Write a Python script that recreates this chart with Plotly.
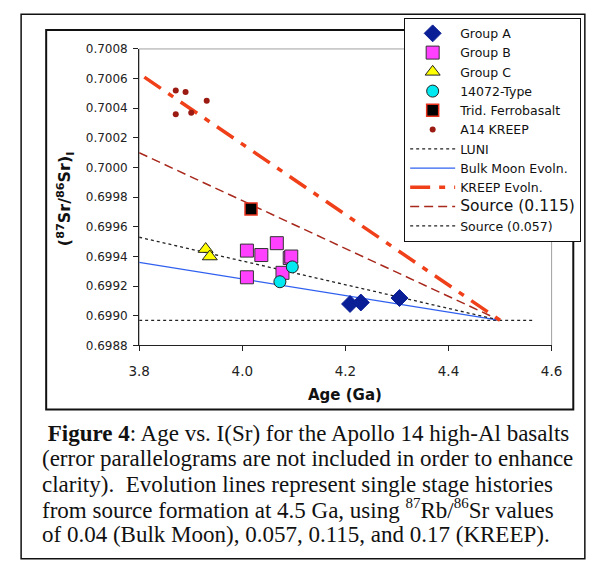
import plotly.graph_objects as go

# ---------------- data ----------------
groupA_age = [4.209, 4.230, 4.305]
groupA_sr = [0.69908, 0.69909, 0.69912]

groupB_age = [4.009, 4.037, 4.067, 4.092, 4.095, 4.078, 4.009]
groupB_sr = [0.69944, 0.69941, 0.69949, 0.69939, 0.69940, 0.69929, 0.69926]

groupC_age = [3.929, 3.937]
groupC_sr = [0.69945, 0.69940]

t14072_age = [4.097, 4.073]
t14072_sr = [0.69933, 0.69923]

trid_age = [4.017]
trid_sr = [0.69972]

kreep_age = [3.871, 3.890, 3.931, 3.871, 3.901]
kreep_sr = [0.70052, 0.70051, 0.70045, 0.70036, 0.70037]

luni_age = [3.80, 4.565]
luni_sr = [0.69897, 0.69897]

bulk_age = [3.80, 4.50]
bulk_sr = [0.69936, 0.69897]

kreep_evol_age = [3.81, 4.50]
kreep_evol_sr = [0.70061, 0.69897]

src115_age = [3.80, 4.50]
src115_sr = [0.70010, 0.69897]

src057_age = [3.80, 4.50]
src057_sr = [0.69953, 0.69897]

x_ticks = [3.8, 4.0, 4.2, 4.4, 4.6]
y_ticks = [0.6988, 0.6990, 0.6992, 0.6994, 0.6996, 0.6998, 0.7000, 0.7002, 0.7004, 0.7006, 0.7008]

caption_lines = [
    " <b>Figure 4</b>: Age vs. I(Sr) for the Apollo 14 high-Al basalts",
    "(error parallelograms are not included in order to enhance",
    "clarity).  Evolution lines represent single stage histories",
    'from source formation at 4.5 Ga, using <sup><span style="font-size:15px">87</span></sup>Rb/'
    '<sup><span style="font-size:15px">86</span></sup>Sr values',
    "of 0.04 (Bulk Moon), 0.057, 0.115, and 0.17 (KREEP).",
]

# ---------------- figure ----------------
W, H = 605, 571
fig = go.Figure()

# lines (drawn first, under markers)
fig.add_trace(go.Scatter(x=luni_age, y=luni_sr, mode="lines", name="LUNI",
                         line=dict(color="#222222", width=1.3, dash="3px,3px"), legendrank=7))
fig.add_trace(go.Scatter(x=bulk_age, y=bulk_sr, mode="lines", name="Bulk Moon Evoln.",
                         line=dict(color="#3060F0", width=1.3), legendrank=8))
fig.add_trace(go.Scatter(x=src115_age, y=src115_sr, mode="lines",
                         name='<span style="font-size:15.5px">Source (0.115)</span>',
                         line=dict(color="#A8281C", width=1.5, dash="9px,5px"), legendrank=10))
fig.add_trace(go.Scatter(x=src057_age, y=src057_sr, mode="lines", name="Source (0.057)",
                         line=dict(color="#222222", width=1.3, dash="3px,3px"), legendrank=11))
fig.add_trace(go.Scatter(x=kreep_evol_age, y=kreep_evol_sr, mode="lines", name="KREEP Evoln.",
                         line=dict(color="#F0401A", width=3.5, dash="20px,9px,6px,9px"), legendrank=9))

# markers
fig.add_trace(go.Scatter(x=groupA_age, y=groupA_sr, mode="markers", name="Group A",
                         marker=dict(symbol="diamond", size=13, color="#0A1E96",
                                     line=dict(color="#0A1E96", width=1)), legendrank=1))
fig.add_trace(go.Scatter(x=groupB_age, y=groupB_sr, mode="markers", name="Group B",
                         marker=dict(symbol="square", size=13, color="#FF40FF",
                                     line=dict(color="#333333", width=1)), legendrank=2))
fig.add_trace(go.Scatter(x=groupC_age, y=groupC_sr, mode="markers", name="Group C",
                         marker=dict(symbol="triangle-up", size=13, color="#FFFF00",
                                     line=dict(color="#222222", width=1)), legendrank=3))
fig.add_trace(go.Scatter(x=t14072_age, y=t14072_sr, mode="markers", name="14072-Type",
                         marker=dict(symbol="circle", size=12, color="#00E8F0",
                                     line=dict(color="#222222", width=1)), legendrank=4))
fig.add_trace(go.Scatter(x=trid_age, y=trid_sr, mode="markers", name="Trid. Ferrobasalt",
                         marker=dict(symbol="square", size=12, color="#000000",
                                     line=dict(color="#E8321E", width=1.5)), legendrank=5))
fig.add_trace(go.Scatter(x=kreep_age, y=kreep_sr, mode="markers", name="A14 KREEP",
                         marker=dict(symbol="circle", size=6, color="#9B1B12"), legendrank=6))

# plot area in pixels
px_l, px_r = 133, 561
py_t, py_b = 43, 347
dom_x = [px_l / W, px_r / W]
dom_y = [1 - py_b / H, 1 - py_t / H]

fig.update_xaxes(domain=dom_x, range=[3.8, 4.6], tickvals=x_ticks, tickformat=".1f",
                 showgrid=False, zeroline=False, showline=True, linecolor="#222222", linewidth=1,
                 ticks="outside", ticklen=5, tickcolor="#222222", ticklabelstandoff=8,
                 tickfont=dict(family="DejaVu Sans", size=13.5, color="#222222"))
fig.update_yaxes(domain=dom_y, range=[0.6988, 0.7008], tickvals=y_ticks, tickformat=".4f",
                 showgrid=False, zeroline=False, showline=True, linecolor="#222222", linewidth=1,
                 ticks="outside", ticklen=5, tickcolor="#222222", ticklabelstandoff=3,
                 tickfont=dict(family="DejaVu Sans", size=12, color="#222222"))

shapes = [
    # outer border
    dict(type="rect", xref="paper", yref="paper", x0=10.5 / W, x1=595.5 / W,
         y0=1 - 565.5 / H, y1=1 - 7.5 / H, line=dict(color="#111111", width=1.5)),
    # inner chart border
    dict(type="rect", xref="paper", yref="paper", x0=36.5 / W, x1=583.5 / W,
         y0=1 - 412.5 / H, y1=1 - 23.5 / H, line=dict(color="#111111", width=2)),
    # grey plot-area frame (top/right)
    dict(type="rect", xref="paper", yref="paper", x0=dom_x[0], x1=dom_x[1],
         y0=dom_y[0], y1=dom_y[1], line=dict(color="#A0A0A0", width=1), layer="below"),
]

annotations = [
    dict(text="<b>Age (Ga)</b>", xref="paper", yref="paper", x=347 / W, y=1 - 398 / H,
         showarrow=False, font=dict(family="DejaVu Sans", size=15, color="#111111"),
         xanchor="center", yanchor="middle"),
    dict(text="<b>(<sup>87</sup>Sr/<sup>86</sup>Sr)<sub>I</sub></b>", xref="paper", yref="paper",
         x=56 / W, y=1 - 196 / H, textangle=-90, showarrow=False,
         font=dict(family="DejaVu Sans", size=16, color="#111111"),
         xanchor="center", yanchor="middle"),
]
cap_y = [437, 463, 489, 515, 541]
for txt, yy in zip(caption_lines, cap_y):
    annotations.append(dict(text=txt, xref="paper", yref="paper", x=30 / W, y=1 - yy / H,
                            showarrow=False, xanchor="left", yanchor="middle",
                            font=dict(family="Liberation Serif", size=23, color="#111111")))

fig.update_layout(
    width=W, height=H, autosize=False,
    margin=dict(l=0, r=0, t=0, b=0),
    paper_bgcolor="white", plot_bgcolor="white",
    shapes=shapes, annotations=annotations,
    showlegend=True,
    legend=dict(x=408 / W, y=1 - 11 / H, xanchor="left", yanchor="top",
                bgcolor="white", bordercolor="#111111", borderwidth=1,
                font=dict(family="DejaVu Sans", size=12.5, color="#111111"),
                itemwidth=45, tracegroupgap=0, itemsizing="trace"),
)

fig.write_html("out.html")
